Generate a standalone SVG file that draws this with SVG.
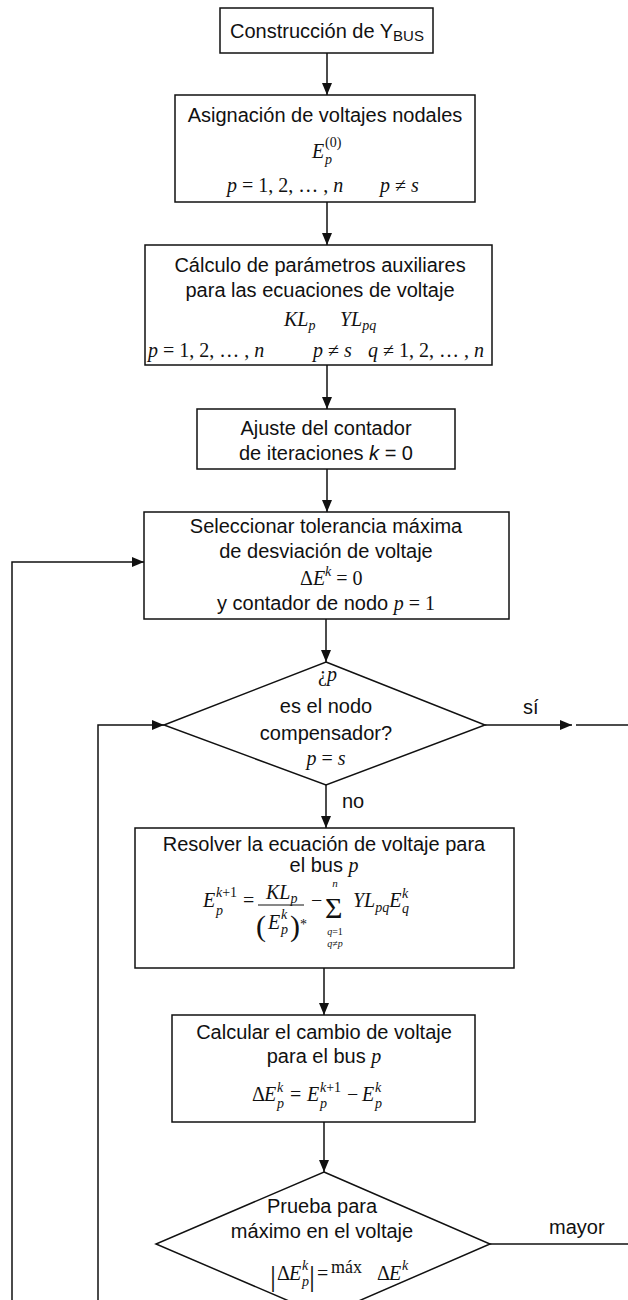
<svg xmlns="http://www.w3.org/2000/svg" width="628" height="1300" viewBox="0 0 628 1300">
<style>
.box{fill:#fff;stroke:#111;stroke-width:1.5}
.c{fill:none;stroke:#111;stroke-width:1.5}
.t{font-family:"Liberation Sans",Arial,sans-serif;font-size:20px;fill:#111}
.m{font-family:"Liberation Serif","Times New Roman",serif;font-size:20px;font-style:italic;fill:#111}
.r{font-family:"Liberation Serif","Times New Roman",serif;font-size:20px;font-style:normal;fill:#111}
.s{font-size:14px}
.ss{font-size:10px}
.sn{font-size:11px}
.big{font-size:30px}
.sig{font-size:30px}
.mx{font-size:18px}
</style>
<defs>
<marker id="ah" markerUnits="userSpaceOnUse" markerWidth="12" markerHeight="10" refX="12" refY="5" orient="auto">
<path d="M0,0 L12,5 L0,10 z" fill="#111"/>
</marker>
</defs>
<rect width="628" height="1300" fill="#fff"/>

<g id="connectors">
<line class="c" x1="327" y1="53" x2="327" y2="95" marker-end="url(#ah)"/>
<line class="c" x1="327" y1="202" x2="327" y2="245" marker-end="url(#ah)"/>
<line class="c" x1="327" y1="365" x2="327" y2="409" marker-end="url(#ah)"/>
<line class="c" x1="327" y1="469" x2="327" y2="512" marker-end="url(#ah)"/>
<line class="c" x1="326" y1="619" x2="326" y2="662" marker-end="url(#ah)"/>
<line class="c" x1="326" y1="785" x2="326" y2="828" marker-end="url(#ah)"/>
<line class="c" x1="324" y1="968" x2="324" y2="1015" marker-end="url(#ah)"/>
<line class="c" x1="324" y1="1122" x2="324" y2="1172" marker-end="url(#ah)"/>
<line class="c" x1="485" y1="725" x2="572" y2="725" marker-end="url(#ah)"/>
<line class="c" x1="576" y1="725" x2="628" y2="725"/>
<line class="c" x1="490" y1="1244" x2="628" y2="1244"/>
<polyline class="c" points="12,1300 12,562 144,562" marker-end="url(#ah)"/>
<polyline class="c" points="98,1300 98,725 164,725" marker-end="url(#ah)"/>
<text class="t" x="523" y="714">sí</text>
<text class="t" x="342" y="808">no</text>
<text class="t" x="549" y="1234">mayor</text>
</g>

<g id="n1">
<rect class="box" x="220" y="8" width="213" height="45"/>
<text class="t" x="327" y="38" text-anchor="middle">Construcción de Y<tspan font-size="15" dy="3">BUS</tspan></text>
</g>

<g id="n2">
<rect class="box" x="175" y="95" width="300" height="107"/>
<text class="t" x="325" y="122" text-anchor="middle">Asignación de voltajes nodales</text>
<text class="m" x="312" y="158">E</text>
<text class="r s" x="325" y="147">(0)</text>
<text class="m s" x="325" y="164">p</text>
<text class="m" x="227" y="192">p<tspan class="r"> = 1, 2, … , </tspan>n</text>
<text class="m" x="380" y="192">p<tspan class="r"> ≠ </tspan>s</text>
</g>

<g id="n3">
<rect class="box" x="145" y="245" width="347" height="120"/>
<text class="t" x="320" y="272" text-anchor="middle">Cálculo de parámetros auxiliares</text>
<text class="t" x="320" y="297" text-anchor="middle">para las ecuaciones de voltaje</text>
<text class="m" x="284" y="326">KL<tspan class="s" dy="4">p</tspan></text>
<text class="m" x="340" y="326">YL<tspan class="s" dy="4">pq</tspan></text>
<text class="m" x="148" y="357">p<tspan class="r"> = 1, 2, … , </tspan>n</text>
<text class="m" x="313" y="357">p<tspan class="r"> ≠ </tspan>s</text>
<text class="m" x="368" y="357">q<tspan class="r"> ≠ 1, 2, … , </tspan>n</text>
</g>

<g id="n4">
<rect class="box" x="197" y="409" width="258" height="60"/>
<text class="t" x="326" y="435" text-anchor="middle">Ajuste del contador</text>
<text class="t" x="326" y="460" text-anchor="middle">de iteraciones <tspan font-style="italic">k</tspan> = 0</text>
</g>

<g id="n5">
<rect class="box" x="144" y="512" width="365" height="107"/>
<text class="t" x="326" y="533" text-anchor="middle">Seleccionar tolerancia máxima</text>
<text class="t" x="326" y="558" text-anchor="middle">de desviación de voltaje</text>
<text class="r" x="300" y="585">Δ<tspan class="m">E</tspan><tspan class="m s" dy="-9">k</tspan><tspan dy="9"> = 0</tspan></text>
<text class="t" x="326" y="610" text-anchor="middle">y contador de nodo <tspan class="m">p</tspan><tspan class="r"> = 1</tspan></text>
</g>

<g id="n6">
<polygon class="box" points="326,662 485,725 326,785 164,725"/>
<text class="r" x="318" y="681">¿<tspan class="m">p</tspan></text>
<text class="t" x="326" y="713" text-anchor="middle">es el nodo</text>
<text class="t" x="326" y="740" text-anchor="middle">compensador?</text>
<text class="m" x="326" y="765" text-anchor="middle">p<tspan class="r"> = </tspan>s</text>
</g>

<g id="n7">
<rect class="box" x="135" y="828" width="379" height="140"/>
<text class="t" x="324" y="851" text-anchor="middle">Resolver la ecuación de voltaje para</text>
<text class="t" x="324" y="872" text-anchor="middle">el bus <tspan class="m">p</tspan></text>
<text class="m" x="203" y="907">E</text>
<text class="m s" x="216" y="897">k<tspan class="r s">+1</tspan></text>
<text class="m s" x="216" y="915">p</text>
<text class="r" x="243" y="907">=</text>
<text class="m" x="266" y="899">KL<tspan class="s" dy="4">p</tspan></text>
<line x1="258" y1="905" x2="304" y2="905" stroke="#111" stroke-width="1"/>
<text class="r big" x="256" y="936">(</text>
<text class="m" x="268" y="929">E</text>
<text class="m s" x="281" y="919">k</text>
<text class="m s" x="281" y="934">p</text>
<text class="r big" x="290" y="936">)</text>
<text class="r s" x="300" y="929">*</text>
<text class="r" x="311" y="907">−</text>
<text class="r sig" x="325" y="918">Σ</text>
<text class="m sn" x="335" y="887" text-anchor="middle">n</text>
<text class="m ss" x="335" y="935" text-anchor="middle">q<tspan class="r ss">=1</tspan></text>
<text class="m ss" x="335" y="947" text-anchor="middle">q<tspan class="r ss">≠</tspan>p</text>
<text class="m" x="353" y="907">YL<tspan class="s" dy="5">pq</tspan><tspan dy="-5">E</tspan></text>
<text class="m s" x="402" y="898">k</text>
<text class="m s" x="402" y="913">q</text>
</g>

<g id="n8">
<rect class="box" x="172" y="1015" width="303" height="107"/>
<text class="t" x="324" y="1039" text-anchor="middle">Calcular el cambio de voltaje</text>
<text class="t" x="324" y="1063" text-anchor="middle">para el bus <tspan class="m">p</tspan></text>
<text class="r" x="252" y="1101">Δ</text>
<text class="m" x="264" y="1101">E</text>
<text class="m s" x="277" y="1092">k</text>
<text class="m s" x="277" y="1108">p</text>
<text class="r" x="290" y="1101">=</text>
<text class="m" x="307" y="1101">E</text>
<text class="m s" x="320" y="1092">k<tspan class="r s">+1</tspan></text>
<text class="m s" x="320" y="1108">p</text>
<text class="r" x="347" y="1101">−</text>
<text class="m" x="362" y="1101">E</text>
<text class="m s" x="375" y="1092">k</text>
<text class="m s" x="375" y="1108">p</text>
</g>

<g id="n9">
<polygon class="box" points="324,1172 490,1244 324,1316 156,1244"/>
<text class="t" x="322" y="1213" text-anchor="middle">Prueba para</text>
<text class="t" x="322" y="1238" text-anchor="middle">máximo en el voltaje</text>
<text class="r big" x="270" y="1286">|</text>
<text class="r" x="277" y="1280">Δ</text>
<text class="m" x="289" y="1280">E</text>
<text class="m s" x="302" y="1270">k</text>
<text class="m s" x="302" y="1286">p</text>
<text class="r big" x="309" y="1286">|</text>
<text class="r" x="317" y="1280">=</text>
<text class="r mx" x="331" y="1273">máx</text>
<text class="r" x="377" y="1280">Δ</text>
<text class="m" x="389" y="1280">E</text>
<text class="m s" x="402" y="1270">k</text>
</g>
</svg>
